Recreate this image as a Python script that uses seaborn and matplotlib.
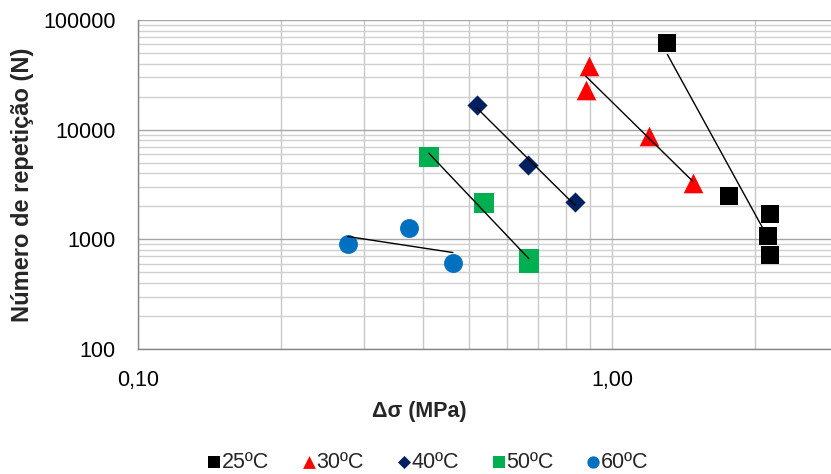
import numpy as np
import pandas as pd
import matplotlib
matplotlib.use('Agg')
import matplotlib.pyplot as plt
import matplotlib.ticker as mticker
import seaborn as sns

# Values
labels = ['25ºC', '30ºC', '40ºC', '50ºC', '60ºC']

x_25 = [1.31, 1.77, 2.16, 2.14, 2.16]
y_25 = [61500, 2480, 1700, 1070, 720]

x_30 = [0.894, 0.881, 1.20, 1.48]
y_30 = [38000, 23000, 8750, 3260]

x_40 = [0.519, 0.665, 0.836]
y_40 = [16800, 4760, 2190]

x_50 = [0.411, 0.537, 0.668, 0.668]
y_50 = [5630, 2150, 660, 610]

x_60 = [0.277, 0.373, 0.462]
y_60 = [907, 1270, 609]

colors = ['#000000', '#FF0000', '#002060', '#00B050', '#0070C0']
markers = ['s', '^', 'D', 's', 'o']
sizes = [185, 200, 105, 190, 185]

series = [(x_25, y_25), (x_30, y_30), (x_40, y_40), (x_50, y_50), (x_60, y_60)]

sns.set_style('white')
plt.rcParams['font.family'] = ['Liberation Sans', 'DejaVu Sans']

fig = plt.figure(figsize=(8.31, 4.74), dpi=100)
ax = fig.add_axes([138 / 831, 125 / 474, 693 / 831, 329 / 474])

for (xs, ys), lab, c, m, s in zip(series, labels, colors, markers, sizes):
    df = pd.DataFrame({'x': xs, 'y': ys})
    sns.scatterplot(data=df, x='x', y='y', marker=m, color=c, s=s,
                    linewidth=0, label=lab, ax=ax, zorder=3)
    # power trendline (straight in log-log)
    b, a = np.polyfit(np.log10(xs), np.log10(ys), 1)
    xl = np.array([min(xs), max(xs)])
    ax.plot(xl, 10 ** (a + b * np.log10(xl)), color='black', lw=1, zorder=4)

ax.set_xscale('log')
ax.set_yscale('log')
ax.set_xlim(0.1, 2.9)
ax.set_ylim(100, 100000)

ax.xaxis.set_major_locator(mticker.LogLocator(base=10, numticks=10))
ax.xaxis.set_minor_locator(mticker.LogLocator(base=10, subs=np.arange(2, 10), numticks=10))
ax.yaxis.set_major_locator(mticker.LogLocator(base=10, numticks=10))
ax.yaxis.set_minor_locator(mticker.LogLocator(base=10, subs=np.arange(2, 10), numticks=10))
ax.xaxis.set_major_formatter(mticker.FuncFormatter(lambda v, p: f'{v:.2f}'.replace('.', ',')))
ax.yaxis.set_major_formatter(mticker.FuncFormatter(lambda v, p: f'{int(round(v))}'))
ax.xaxis.set_minor_formatter(mticker.NullFormatter())
ax.yaxis.set_minor_formatter(mticker.NullFormatter())

ax.grid(True, which='major', axis='y', color='#A6A6A6', lw=1.0)
ax.grid(True, which='minor', axis='y', color='#D0D0D0', lw=1.0)
ax.grid(True, which='both', axis='x', color='#C8C8C8', lw=1.0)
ax.set_axisbelow(True)

for side in ['top', 'right']:
    ax.spines[side].set_visible(False)
for side in ['left', 'bottom']:
    ax.spines[side].set_color('#868686')
    ax.spines[side].set_linewidth(1.0)

ax.tick_params(which='major', length=5, width=1, color='#868686',
               labelsize=15.5, colors='#868686', labelcolor='black', direction='out')
ax.tick_params(axis='x', which='major', pad=10)
ax.tick_params(axis='y', which='major', pad=11)
ax.tick_params(which='minor', length=0)

ax.set_xlabel('')
ax.set_ylabel('')
fig.text(419 / 831, 1 - 411 / 474, 'Δσ (MPa)', ha='center', va='center',
         fontsize=15.5, fontweight='bold')
fig.text(23 / 831, 1 - 185 / 474, 'Número de repetição (N)', ha='center', va='center',
         rotation=90, fontsize=17, fontweight='bold')

handles, labs = ax.get_legend_handles_labels()
ax.get_legend().remove()
fig.legend(handles, labs, loc='center', bbox_to_anchor=(426 / 831, 1 - 462 / 474),
           ncol=5, frameon=False, fontsize=15.5, markerscale=0.65,
           handletextpad=-0.15, columnspacing=1.35, handlelength=1.0)

fig.savefig('out.png', dpi=100)
